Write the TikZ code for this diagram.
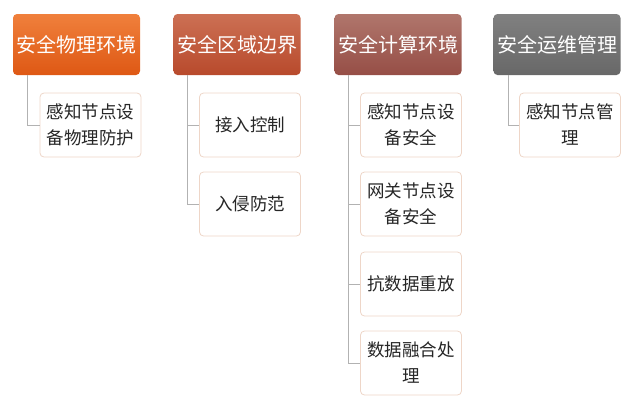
\documentclass[tikz,border=0pt]{standalone}
\usepackage{fontspec}
\setmainfont{Noto Sans CJK SC}
\definecolor{a1}{RGB}{240,128,60}\definecolor{b1}{RGB}{222,88,20}
\definecolor{a2}{RGB}{204,112,84}\definecolor{b2}{RGB}{184,74,44}
\definecolor{a3}{RGB}{176,118,108}\definecolor{b3}{RGB}{150,78,70}
\definecolor{a4}{RGB}{128,128,128}\definecolor{b4}{RGB}{104,104,104}
\definecolor{cb}{RGB}{238,214,200}
\begin{document}
\begin{tikzpicture}[x=1pt,y=-1pt,
 head/.style={rounded corners=4pt,minimum width=127pt,minimum height=61pt,text=white,font=\fontsize{20}{22}\selectfont,inner sep=0pt},
 child/.style={draw=cb,line width=0.8pt,rounded corners=4pt,fill=white,minimum width=101pt,minimum height=64pt,text=black!85,font=\fontsize{17.5}{26}\selectfont,align=center,inner sep=0pt},
 conn/.style={draw=black!30,line width=0.7pt}]
\useasboundingbox (0,0) rectangle (640,405);
\node[head,top color=a1,bottom color=b1] (h1) at (76.5,44.5) {安全物理环境};
\node[head,top color=a2,bottom color=b2] (h2) at (237,44.5) {安全区域边界};
\node[head,top color=a3,bottom color=b3] (h3) at (398,44.5) {安全计算环境};
\node[head,top color=a4,bottom color=b4] (h4) at (557,44.5) {安全运维管理};
\coordinate (s1) at (27,75); \coordinate (s2) at (187,75); \coordinate (s3) at (348,75); \coordinate (s4) at (508,75);
\node[child] (c1) at (90.5,125) {感知节点设\\备物理防护};
\node[child] (c21) at (250,125) {接入控制};
\node[child] (c22) at (250,204) {入侵防范};
\node[child] (c31) at (411,125) {感知节点设\\备安全};
\node[child] (c32) at (411,204) {网关节点设\\备安全};
\node[child] (c33) at (411,284) {抗数据重放};
\node[child] (c34) at (411,363) {数据融合处\\理};
\node[child] (c41) at (570,125) {感知节点管\\理};
\draw[conn] (s1) |- (c1.west);
\draw[conn] (s2) |- (c21.west); \draw[conn] (s2) |- (c22.west);
\draw[conn] (s3) |- (c31.west); \draw[conn] (s3) |- (c32.west); \draw[conn] (s3) |- (c33.west); \draw[conn] (s3) |- (c34.west);
\draw[conn] (s4) |- (c41.west);
\end{tikzpicture}
\end{document}
